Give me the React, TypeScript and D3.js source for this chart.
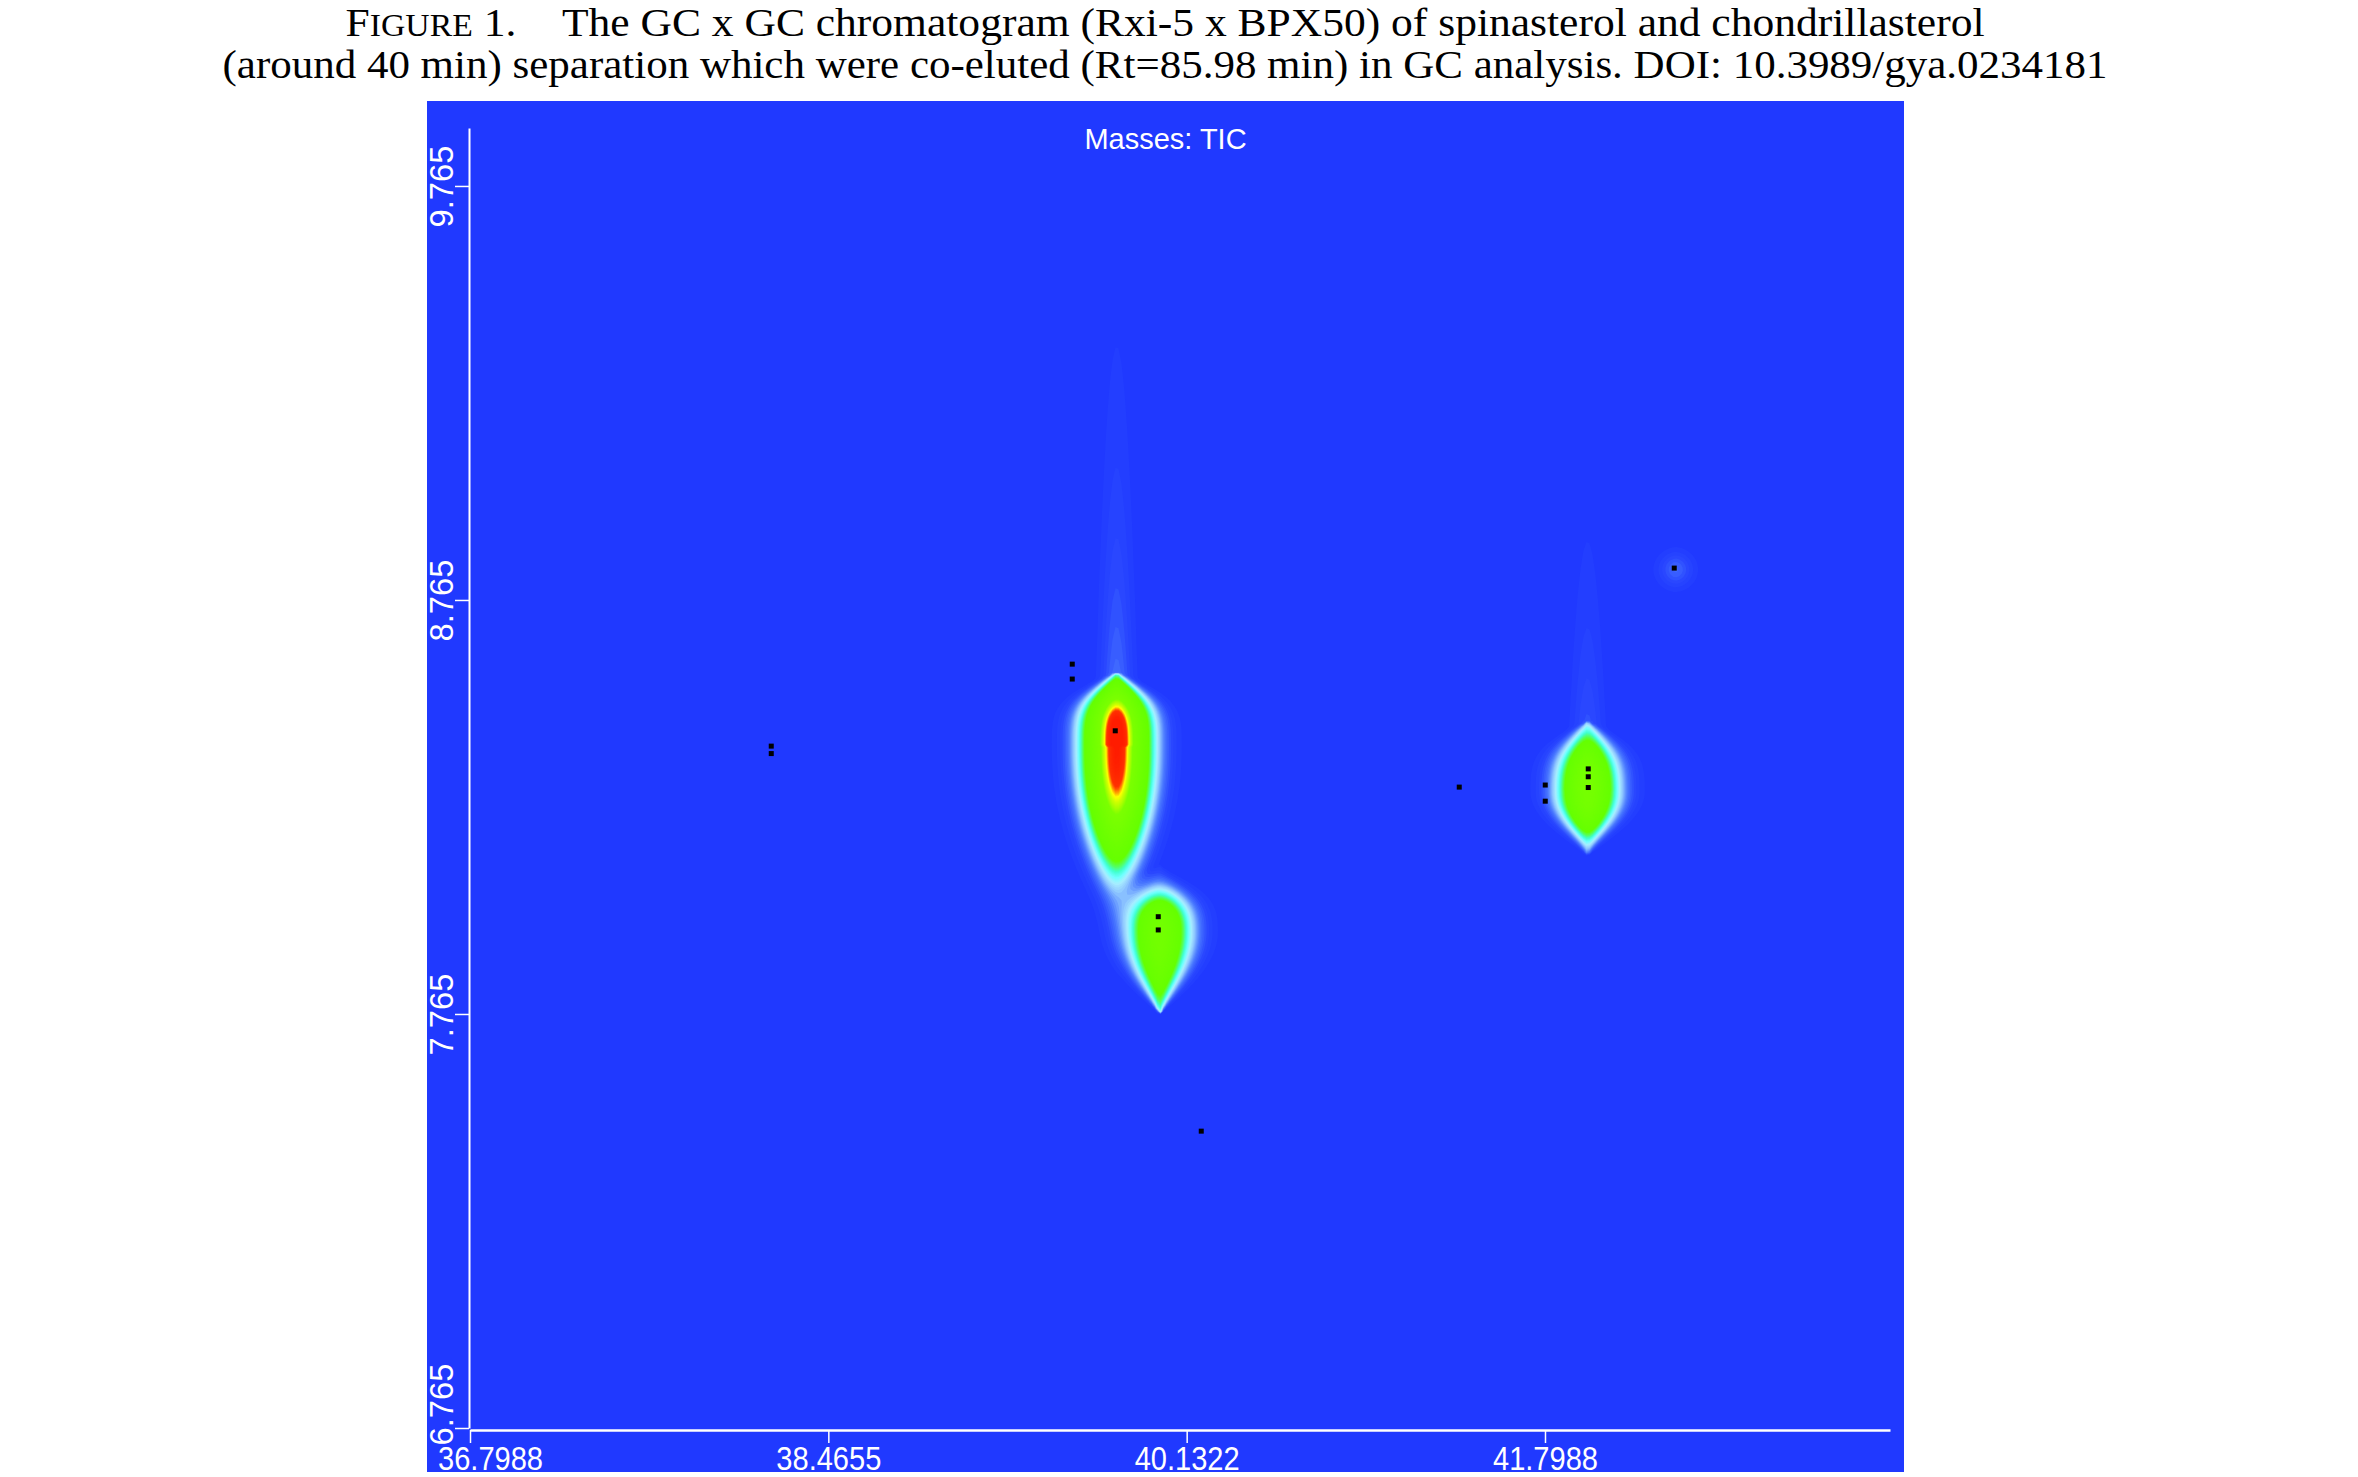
import React, { useEffect, useRef } from 'react'
import * as d3 from 'd3'

// axis ticks (min)
const xTicks = [36.7988, 38.4655, 40.1322, 41.7988]
const xTickLabels = ['36.7988', '38.4655', '40.1322', '41.7988']
const yTicks = [6.765, 7.765, 8.765, 9.765]
const yTickLabels = ['6.765', '7.765', '8.765', '9.765']

// peaks (1st dim min, 2nd dim s)
const peakRt1 = [39.8, 40.0, 41.99, 42.4]
const peakRt2 = [8.415, 7.968, 8.306, 8.842]
const peakHeight = [1.0, 0.52, 0.58, 0.05]
const peakSigma1 = [0.129, 0.125, 0.121, 0.075]
const peakSigmaUp = [0.145, 0.09, 0.129, 0.04]
const peakSigmaDown = [0.251, 0.19, 0.111, 0.04]
const peakPowUp = [3.4, 2.4, 2.4, 2]
const peakPowDown = [2.5, 2.2, 2.4, 2]
const peakTaperUp = [0.179, 0.16, 0.169, 1]
const peakTaperDown = [0.6, 0.2, 0.157, 1]
const tailHeight = [0.08, 0, 0.06, 0]
const tailLength = [0.42, 0, 0.3, 0]

// detected peak markers
const markerRt1 = [38.2, 38.2, 39.6, 39.6, 39.8, 40.0, 40.0, 41.4, 41.8, 41.8, 42.0, 42.0, 42.0, 42.4, 40.2]
const markerRt2 = [8.412, 8.394, 8.61, 8.574, 8.449, 8.0, 7.968, 8.313, 8.318, 8.279, 8.357, 8.338, 8.312, 8.842, 7.482]

const colorStops = [0, 0.025, 0.06, 0.1, 0.13, 0.16, 0.195, 0.23, 0.27, 0.7, 0.8, 0.84, 0.87, 0.9, 1]
const colorRange = ['#2039ff', '#2a48ff', '#4a78ff', '#90c8ff', '#a8eeff', '#70ffff', '#40ffd0', '#55ff60', '#66ff00', '#7cff00', '#ccff00', '#ffff00', '#ff9900', '#ff3300', '#ff1a00']

export default function App(): React.ReactElement {
  const svgRef = useRef<SVGSVGElement>(null)

  useEffect(() => {
    const width = 2358
    const height = 1477
    const box = { left: 427, top: 101, right: 1904, bottom: 1472 }
    const plot = { left: 470, right: 1890, top: 128, bottom: 1428 }

    const x = d3.scaleLinear().domain([36.7988, 43.4035]).range([plot.left, plot.right])
    const y = d3.scaleLinear().domain([6.765, 9.905]).range([plot.bottom, plot.top])

    const color = d3
      .scaleLinear<string>()
      .domain(colorStops)
      .range(colorRange)
      .interpolate(d3.interpolateRgb)
      .clamp(true)

    const svg = d3.select(svgRef.current)
    svg.selectAll('*').remove()
    svg.attr('width', width).attr('height', height).attr('viewBox', `0 0 ${width} ${height}`)

    svg.append('rect').attr('width', width).attr('height', height).attr('fill', '#fff')

    // title
    const title = svg
      .append('g')
      .attr('font-family', '"Liberation Serif", "Times New Roman", serif')
      .attr('fill', '#000')
      .attr('text-anchor', 'middle')
    const t1 = title
      .append('text')
      .attr('x', 1165)
      .attr('y', 36)
      .attr('font-size', 40)
      .attr('textLength', 1639)
      .attr('lengthAdjust', 'spacingAndGlyphs')
    t1.append('tspan').text('F')
    t1.append('tspan').attr('font-size', 31).text('IGURE')
    t1.append('tspan').text(' 1.')
    t1.append('tspan').attr('dx', 42).text('The GC x GC chromatogram (Rxi-5 x BPX50) of spinasterol and chondrillasterol')
    title
      .append('text')
      .attr('x', 1165)
      .attr('y', 78)
      .attr('font-size', 40)
      .attr('textLength', 1885)
      .attr('lengthAdjust', 'spacingAndGlyphs')
      .text('(around 40 min) separation which were co-eluted (Rt=85.98 min) in GC analysis. DOI: 10.3989/gya.0234181')

    // background
    svg
      .append('rect')
      .attr('x', box.left)
      .attr('y', box.top)
      .attr('width', box.right - box.left)
      .attr('height', box.bottom - box.top)
      .attr('fill', color(0))

    // intensity field on a pixel grid
    const step = 3
    const nx = Math.ceil((box.right - box.left) / step)
    const ny = Math.ceil((box.bottom - box.top) / step)
    const values = new Float64Array(nx * ny)
    for (let j = 0; j < ny; j++) {
      const rt2 = y.invert(box.top + j * step)
      for (let i = 0; i < nx; i++) {
        const rt1 = x.invert(box.left + i * step)
        let v = 0
        for (let k = 0; k < peakRt1.length; k++) {
          const dx = rt1 - peakRt1[k]
          const d = rt2 - peakRt2[k]
          let g: number
          let w: number
          if (d > 0) {
            g = Math.exp(-Math.pow(d / peakSigmaUp[k], peakPowUp[k]))
            w = 1 - Math.pow(d / peakTaperUp[k], 4)
          } else {
            const e = -d
            g = Math.exp(-Math.pow(e / peakSigmaDown[k], peakPowDown[k]))
            w = 1 - Math.pow(e / peakTaperDown[k], 2)
          }
          if (w > 0.02) {
            const h = Math.exp(-Math.pow(Math.abs(dx) / (peakSigma1[k] * w), 1.85))
            v += peakHeight[k] * g * h
          }
          if (tailHeight[k] > 0 && d > 0) {
            v += tailHeight[k] * Math.exp(-Math.pow(dx / 0.07, 2)) * Math.exp(-d / tailLength[k])
          }
        }
        values[j * nx + i] = Math.min(1, v)
      }
    }

    const thresholds = d3.range(0.008, 1, 0.008)
    const contours = d3.contours().size([nx, ny]).thresholds(thresholds)(Array.from(values))

    svg
      .append('g')
      .attr('transform', `translate(${box.left},${box.top}) scale(${step})`)
      .selectAll('path')
      .data(contours)
      .join('path')
      .attr('d', d3.geoPath())
      .attr('fill', (d) => color(d.value))
      .attr('stroke', 'none')

    // markers
    svg
      .append('g')
      .attr('fill', '#000')
      .selectAll('rect')
      .data(markerRt1.map((r, i) => [r, markerRt2[i]]))
      .join('rect')
      .attr('x', (d) => x(d[0]) - 2.5)
      .attr('y', (d) => y(d[1]) - 2.5)
      .attr('width', 5)
      .attr('height', 5)

    // axes
    const font = '"Liberation Sans", Arial, sans-serif'
    const xAxis = svg
      .append('g')
      .attr('transform', `translate(0,${plot.bottom + 2})`)
      .style('color', '#fff')
      .call(
        d3
          .axisBottom(x)
          .tickValues(xTicks)
          .tickFormat((d, i) => xTickLabels[i])
          .tickSize(13)
          .tickSizeOuter(0)
      )
    xAxis.select('.domain').attr('stroke-width', 2.5)
    xAxis.selectAll('.tick line').attr('stroke-width', 1.5)
    xAxis
      .selectAll<SVGTextElement, number>('.tick text')
      .attr('font-family', font)
      .attr('font-size', 34)
      .attr('textLength', 105)
      .attr('lengthAdjust', 'spacingAndGlyphs')
      .attr('y', 40)
      .attr('dy', 0)
      .attr('x', (d, i) => (i === 0 ? 20 : 0))

    const yAxis = svg
      .append('g')
      .attr('transform', `translate(${plot.left - 1},0)`)
      .style('color', '#fff')
      .call(
        d3
          .axisLeft(y)
          .tickValues(yTicks)
          .tickFormat((d, i) => yTickLabels[i])
          .tickSize(14)
          .tickSizeOuter(0)
      )
    yAxis.select('.domain').attr('stroke-width', 2)
    yAxis.selectAll('.tick line').attr('stroke-width', 1.5)
    yAxis
      .selectAll<SVGTextElement, number>('.tick text')
      .attr('font-family', font)
      .attr('font-size', 34)
      .attr('textLength', 82)
      .attr('lengthAdjust', 'spacingAndGlyphs')
      .attr('text-anchor', 'middle')
      .attr('transform', 'rotate(-90)')
      .attr('y', -16)
      .attr('dy', 0)
      .attr('x', (d, i) => (i === 0 ? 24 : 0))

    svg
      .append('text')
      .attr('x', (box.left + box.right) / 2)
      .attr('y', 149)
      .attr('text-anchor', 'middle')
      .attr('font-family', font)
      .attr('font-size', 29)
      .attr('fill', '#fff')
      .text('Masses: TIC')
  }, [])

  return <svg ref={svgRef} style={{ position: 'absolute', left: 0, top: 0 }}></svg>
}
